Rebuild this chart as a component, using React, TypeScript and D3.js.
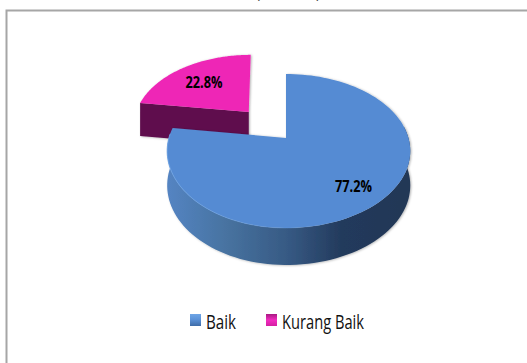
import React from "react";
import * as d3 from "d3";

const categories = ["Baik", "Kurang Baik"];
const shares = [77.2, 22.8];

const W = 527;
const H = 363;
const FONT = "'Open Sans', 'Noto Sans', sans-serif";

// Perspective model of the pie's top plane: u runs right, v runs away from the viewer.
const apexX = 286;
const apexY = 138;
const spanX = 119.5;
const spanY = 74.8;
const persp = 0.169;
const explode = 0.489;
const turn = d3.scaleLinear().domain([0, d3.sum(shares)]).range([0, 2 * Math.PI]);

type Pt = [number, number];

function project(u: number, v: number, leftStretch = 0.98, lean = 0): Pt {
  const w = 1 + persp * v;
  const stretch = u > 0 ? 1.025 : leftStretch;
  return [apexX + (spanX * u * stretch) / w - lean * v, apexY - (spanY * v) / w];
}

function rim(a0: number, a1: number, cu: number, cv: number, leftStretch: number, lean: number): Pt[] {
  return d3.range(0, 121).map((i) => {
    const a = a0 + ((a1 - a0) * i) / 120;
    return project(cu + Math.sin(a), cv + Math.cos(a), leftStretch, lean);
  });
}

// Wall depth grows slightly toward the viewer.
function drop(p: Pt, depth: number): Pt {
  const v = (apexY - p[1]) / spanY;
  return [p[0], p[1] + depth - 2.5 * v];
}

const line = d3.line<Pt>().x((d) => d[0]).y((d) => d[1]);
const closed = (pts: Pt[]) => line(pts) + "Z";

const baikEnd = turn(shares[0]);
const mid = (baikEnd + 2 * Math.PI) / 2;
const offU = explode * Math.sin(mid);
const offV = explode * Math.cos(mid);

const baikRim = rim(0, baikEnd, 0, 0, 0.98, 0);
const baikApex = project(0, 0);
const baikFront = baikRim.filter((_, i) => {
  const a = (baikEnd * i) / 120;
  return a > 1.4 && a < 4.8;
});
const baikWall = [...baikFront, ...baikFront.map((p) => drop(p, 34)).reverse()];

const pinkRim = rim(baikEnd, 2 * Math.PI, offU, offV, 1, 3);
const pinkApex = project(offU, offV, 1, 3);
const pinkLeft = pinkRim[0];
const pinkWall = [pinkLeft, pinkApex, drop(pinkApex, 34), drop(pinkLeft, 34)];

const labels = [
  { text: `${shares[0].toFixed(1)}%`, x: 353.5, y: 192, len: 37 },
  { text: `${shares[1].toFixed(1)}%`, x: 204, y: 88, len: 37 },
];

const legend = [
  { name: categories[0], mark: 190, text: 206, len: 30, fill: "url(#legendBlue)" },
  { name: categories[1], mark: 266, text: 282, len: 82, fill: "url(#legendPink)" },
];

export default function App() {
  return (
    <svg
      width={W}
      height={H}
      viewBox={`0 0 ${W} ${H}`}
      style={{ position: "fixed", left: 0, top: 0, background: "#fff" }}
    >
      <defs>
        <linearGradient id="wallBlue" gradientUnits="userSpaceOnUse" x1={168} x2={410} y1={0} y2={0}>
          <stop offset="0" stopColor="#5484c2" />
          <stop offset="0.25" stopColor="#47729f" />
          <stop offset="0.5" stopColor="#365983" />
          <stop offset="0.72" stopColor="#233a5c" />
          <stop offset="1" stopColor="#223756" />
        </linearGradient>
        <linearGradient id="rimLight" gradientUnits="userSpaceOnUse" x1={168} x2={340} y1={0} y2={0}>
          <stop offset="0" stopColor="#6ea3e4" stopOpacity="0.9" />
          <stop offset="1" stopColor="#6ea3e4" stopOpacity="0" />
        </linearGradient>
        <linearGradient id="legendBlue" x1="0" x2="0" y1="0" y2="1">
          <stop offset="0" stopColor="#6fa5e6" />
          <stop offset="0.45" stopColor="#5b92d8" />
          <stop offset="1" stopColor="#3f6ca8" />
        </linearGradient>
        <linearGradient id="legendPink" x1="0" x2="0" y1="0" y2="1">
          <stop offset="0" stopColor="#a81a82" />
          <stop offset="0.5" stopColor="#f22cc0" />
          <stop offset="1" stopColor="#d41fa2" />
        </linearGradient>
        <filter id="soft" x="-10%" y="-10%" width="120%" height="120%">
          <feDropShadow dx="1" dy="0.5" stdDeviation="1" floodColor="#000" floodOpacity="0.3" />
        </filter>
      </defs>

      <path d={`M${W},10.5H6.5V${H}`} fill="none" stroke="#a6a6a6" strokeWidth={2} />
      <text x={258} y={-2} fontFamily={FONT} fontSize={14} fill="#333" textAnchor="middle">(</text>
      <text x={318} y={-2} fontFamily={FONT} fontSize={14} fill="#333" textAnchor="middle">)</text>

      <g filter="url(#soft)">
        <path d={closed(pinkWall)} fill="#5f0f4e" />
        <path d={closed([pinkApex, ...pinkRim])} fill="#ee28b6" />
      </g>
      <g filter="url(#soft)">
        <path d={closed(baikWall)} fill="url(#wallBlue)" />
        <path d={closed([baikApex, ...baikRim])} fill="#548bd3" />
      </g>
      <path d={line(baikFront) ?? ""} fill="none" stroke="url(#rimLight)" strokeWidth={1} />

      {labels.map((l) => (
        <text
          key={l.text}
          x={l.x}
          y={l.y}
          textAnchor="middle"
          fontFamily={FONT}
          fontWeight={700}
          fontSize={16.8}
          textLength={l.len}
          lengthAdjust="spacingAndGlyphs"
          fill="#000"
        >
          {l.text}
        </text>
      ))}

      {legend.map((l) => (
        <g key={l.name}>
          <rect x={l.mark} y={314} width={11} height={12} fill={l.fill} />
          <text
            x={l.text}
            y={329}
            fontFamily={FONT}
            fontSize={20.5}
            textLength={l.len}
            lengthAdjust="spacingAndGlyphs"
            fill="#111"
          >
            {l.name}
          </text>
        </g>
      ))}
    </svg>
  );
}
